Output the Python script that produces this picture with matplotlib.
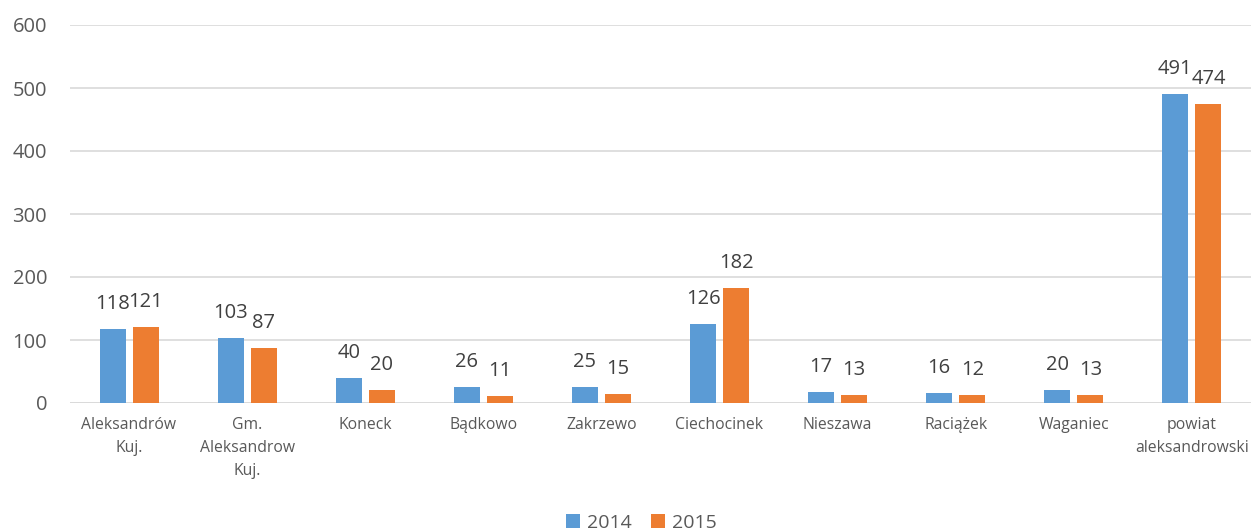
import matplotlib
matplotlib.use("Agg")
import matplotlib.pyplot as plt
import numpy as np

categories = ["Aleksandrów\nKuj.", "Gm.\nAleksandrow\nKuj.", "Koneck", "Bądkowo", "Zakrzewo",
              "Ciechocinek", "Nieszawa", "Raciążek", "Waganiec", "powiat\naleksandrowski"]
values_2014 = [118, 103, 40, 26, 25, 126, 17, 16, 20, 491]
values_2015 = [121, 87, 20, 11, 15, 182, 13, 12, 13, 474]
series_names = ["2014", "2015"]
yticks = [0, 100, 200, 300, 400, 500, 600]

plt.rcParams['font.family'] = ['Open Sans', 'DejaVu Sans']
txt = '#595959'
c1 = '#5b9bd5'
c2 = '#ed7d31'

fig = plt.figure(figsize=(12.53, 5.32), dpi=100)
ax = fig.add_axes([70/1253, 1-403/532, 1181/1253, (403-25)/532])

x = np.arange(len(categories))
w = 0.22
off = 0.14
b1 = ax.bar(x - off, values_2014, w, color=c1, label=series_names[0], zorder=3)
b2 = ax.bar(x + off, values_2015, w, color=c2, label=series_names[1], zorder=3)

for rects, vals in ((b1, values_2014), (b2, values_2015)):
    for r, v in zip(rects, vals):
        ax.annotate(str(v), (r.get_x() + r.get_width()/2, v), xytext=(0, 18),
                    textcoords='offset points', ha='center', va='center',
                    fontsize=14.5, color='#404040', zorder=4)

ax.set_xlim(-0.5, len(categories) - 0.5)
ax.set_ylim(0, 600)
ax.set_yticks(yticks)
ax.set_yticklabels([str(t) for t in yticks], fontsize=14.5, color=txt)
ax.set_xticks(x)
ax.set_xticklabels(categories, fontsize=11.3, color=txt, linespacing=1.6)
ax.tick_params(axis='both', length=0)
ax.tick_params(axis='y', pad=16.5)
ax.tick_params(axis='x', pad=10)
ax.grid(axis='y', color='#d9d9d9', linewidth=1.2, zorder=0)
for s in ax.spines.values():
    s.set_visible(False)
ax.axhline(0, color='#d9d9d9', linewidth=1.2, zorder=2)

leg = fig.legend(handles=[b1, b2], loc='center', bbox_to_anchor=(641/1253, 1-523/532),
                 ncol=2, frameon=False, fontsize=14, handlelength=0.72, handleheight=0.72,
                 handletextpad=0.35, columnspacing=1.0, borderaxespad=0)
for t in leg.get_texts():
    t.set_color(txt)

fig.savefig("out.png", dpi=100)
